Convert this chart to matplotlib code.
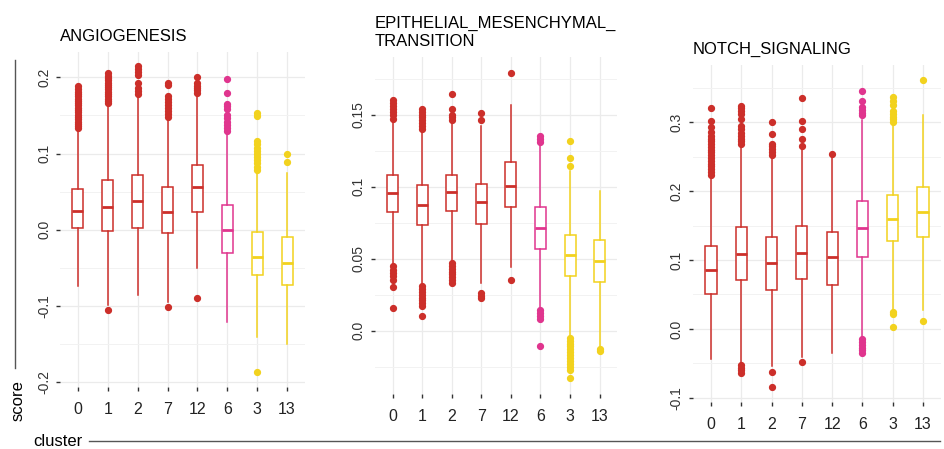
import matplotlib
matplotlib.use("Agg")
import matplotlib.pyplot as plt
from matplotlib.lines import Line2D

plt.rcParams['font.family'] = ['Liberation Sans', 'DejaVu Sans']

clusters = ['0', '1', '2', '7', '12', '6', '3', '13']
red, pink, yellow = '#cc2f2a', '#e0358e', '#f2d21e'
box_colors = [red, red, red, red, red, pink, yellow, yellow]

# ANGIOGENESIS
ang_q1 = [0.002, -0.002, 0.003, -0.004, 0.023, -0.030, -0.059, -0.072]
ang_med = [0.025, 0.030, 0.038, 0.024, 0.056, 0.000, -0.035, -0.044]
ang_q3 = [0.054, 0.065, 0.072, 0.056, 0.085, 0.033, -0.003, -0.010]
ang_lo = [-0.073, -0.098, -0.085, -0.094, -0.050, -0.121, -0.141, -0.149]
ang_hi = [0.131, 0.164, 0.176, 0.146, 0.178, 0.128, 0.078, 0.075]
ang_fliers = [
    [0.133, 0.136, 0.139, 0.142, 0.145, 0.148, 0.151, 0.154, 0.157, 0.160,
     0.163, 0.166, 0.169, 0.172, 0.175, 0.178, 0.181, 0.184, 0.188],
    [0.166, 0.169, 0.172, 0.175, 0.178, 0.181, 0.184, 0.187, 0.190, 0.193,
     0.196, 0.199, 0.202, 0.205, -0.105],
    [0.178, 0.182, 0.186, 0.193, 0.203, 0.207, 0.211, 0.215],
    [0.148, 0.152, 0.156, 0.160, 0.164, 0.168, 0.172, 0.175, 0.190, 0.192, -0.101],
    [0.180, 0.183, 0.186, 0.189, 0.192, 0.200, -0.089],
    [0.130, 0.134, 0.138, 0.142, 0.146, 0.150, 0.158, 0.162, 0.165, 0.180, 0.198],
    [0.079, 0.083, 0.087, 0.091, 0.095, 0.099, 0.103, 0.107, 0.112, 0.117,
     0.149, 0.153, -0.186],
    [0.089, 0.100],
]

# EPITHELIAL_MESENCHYMAL_TRANSITION
emt_q1 = [0.0825, 0.073, 0.083, 0.074, 0.0855, 0.057, 0.0376, 0.034]
emt_med = [0.0954, 0.087, 0.096, 0.089, 0.1007, 0.0716, 0.0524, 0.048]
emt_q3 = [0.108, 0.101, 0.108, 0.102, 0.117, 0.086, 0.0663, 0.0626]
emt_lo = [0.046, 0.033, 0.047, 0.033, 0.044, 0.0155, -0.004, -0.012]
emt_hi = [0.146, 0.138, 0.145, 0.142, 0.157, 0.129, 0.111, 0.097]
emt_fliers = [
    [0.147, 0.150, 0.152, 0.154, 0.156, 0.158, 0.160,
     0.045, 0.042, 0.040, 0.038, 0.035, 0.030, 0.016],
    [0.140, 0.142, 0.144, 0.146, 0.148, 0.150, 0.152, 0.154,
     0.031, 0.029, 0.027, 0.025, 0.023, 0.021, 0.019, 0.017, 0.010],
    [0.146, 0.148, 0.150, 0.154, 0.164,
     0.047, 0.045, 0.043, 0.041, 0.039, 0.037, 0.035, 0.033],
    [0.146, 0.151, 0.026, 0.024, 0.023],
    [0.179, 0.035],
    [0.131, 0.133, 0.135, 0.014, 0.012, 0.010, 0.008, -0.011],
    [0.114, 0.120, 0.132, -0.005, -0.007, -0.009, -0.011, -0.013, -0.015,
     -0.017, -0.019, -0.021, -0.023, -0.025, -0.027, -0.033],
    [-0.013, -0.014],
]

# NOTCH_SIGNALING
notch_q1 = [0.0506, 0.071, 0.056, 0.073, 0.064, 0.105, 0.127, 0.133]
notch_med = [0.0858, 0.109, 0.095, 0.110, 0.105, 0.146, 0.160, 0.170]
notch_q3 = [0.121, 0.148, 0.134, 0.149, 0.140, 0.186, 0.195, 0.206]
notch_lo = [-0.044, -0.049, -0.054, -0.040, -0.035, -0.013, 0.028, 0.028]
notch_hi = [0.223, 0.266, 0.250, 0.262, 0.249, 0.303, 0.300, 0.311]
notch_fliers = [
    [0.224, 0.228, 0.232, 0.236, 0.240, 0.244, 0.248, 0.252, 0.256, 0.260,
     0.264, 0.268, 0.272, 0.276, 0.280, 0.286, 0.293, 0.302, 0.321],
    [0.268, 0.272, 0.276, 0.280, 0.285, 0.290, 0.295, 0.304, 0.312, 0.316,
     0.320, 0.324, -0.052, -0.056, -0.060, -0.064],
    [0.253, 0.257, 0.261, 0.265, 0.268, 0.283, 0.300, -0.063, -0.084],
    [0.266, 0.276, 0.290, 0.302, 0.335, -0.048],
    [0.254],
    [0.310, 0.314, 0.318, 0.322, 0.331, 0.345,
     -0.015, -0.019, -0.023, -0.027, -0.031, -0.035],
    [0.300, 0.304, 0.308, 0.312, 0.316, 0.325, 0.330, 0.336, 0.025, 0.021, 0.003],
    [0.361, 0.011],
]

panels = [
    ("ANGIOGENESIS", ang_q1, ang_med, ang_q3, ang_lo, ang_hi, ang_fliers,
     [0.0636, 0.138, 0.2595, 0.746], (-0.206, 0.233),
     [-0.2, -0.1, 0.0, 0.1, 0.2], ['-0.2', '-0.1', '0.0', '0.1', '0.2'],
     [-0.15, -0.05, 0.05, 0.15]),
    ("EPITHELIAL_MESENCHYMAL_\nTRANSITION", emt_q1, emt_med, emt_q3, emt_lo, emt_hi, emt_fliers,
     [0.397, 0.1225, 0.257, 0.7506], (-0.044, 0.19),
     [0.0, 0.05, 0.1, 0.15], ['0.0', '0.05', '0.1', '0.15'],
     [-0.025, 0.025, 0.075, 0.125, 0.175]),
    ("NOTCH_SIGNALING", notch_q1, notch_med, notch_q3, notch_lo, notch_hi, notch_fliers,
     [0.734, 0.1047, 0.263, 0.7506], (-0.106, 0.383),
     [-0.1, 0.0, 0.1, 0.2, 0.3], ['-0.1', '0.0', '0.1', '0.2', '0.3'],
     [-0.05, 0.05, 0.15, 0.25, 0.35]),
]

fig = plt.figure(figsize=(9.44, 4.49), dpi=100)

for title, q1, med, q3, lo, hi, fl, pos, ylim, yt, ytl, yminor in panels:
    ax = fig.add_axes(pos)
    for i in range(len(clusters)):
        c = box_colors[i]
        stats = [dict(q1=q1[i], med=med[i], q3=q3[i], whislo=lo[i], whishi=hi[i],
                      fliers=fl[i])]
        ax.bxp(stats, positions=[i], widths=0.37, showcaps=False, patch_artist=True,
               boxprops=dict(facecolor='white', edgecolor=c, linewidth=1.1),
               whiskerprops=dict(color=c, linewidth=1.1),
               medianprops=dict(color=c, linewidth=2.0),
               flierprops=dict(marker='o', markerfacecolor=c, markeredgecolor=c,
                               markersize=4.2, linestyle='none'),
               zorder=3)
    ax.set_xlim(-0.6, 7.6)
    ax.set_ylim(*ylim)
    ax.set_xticks(range(len(clusters)))
    ax.set_xticklabels(clusters, fontsize=11.5, color='#222222')
    ax.set_yticks(yt)
    ax.set_yticklabels(ytl, rotation=90, va='center', fontsize=10, color='#333333')
    ax.set_yticks(yminor, minor=True)
    ax.tick_params(axis='y', which='minor', length=0)
    ax.tick_params(axis='both', which='major', length=3, width=1, color='#333333')
    ax.tick_params(axis='x', pad=8)
    ax.grid(True, which='major', color='#ebebeb', linewidth=0.9, zorder=0)
    ax.grid(True, which='minor', axis='y', color='#f2f2f2', linewidth=0.7, zorder=0)
    ax.set_axisbelow(True)
    for s in ax.spines.values():
        s.set_visible(False)
    ax.set_title(title, loc='left', fontsize=12, pad=8, x=0.0)

# shared axis labels with guide lines
fig.text(18 / 944, 1 - 401 / 449, 'score', rotation=90, ha='center', va='center', fontsize=12)
fig.add_artist(Line2D([15 / 944, 15 / 944], [1 - 60 / 449, 1 - 368 / 449],
                      color='#555555', linewidth=1))
fig.text(33 / 944, 1 - 441 / 449, 'cluster', ha='left', va='center', fontsize=12)
fig.add_artist(Line2D([89 / 944, 940 / 944], [1 - 441 / 449, 1 - 441 / 449],
                      color='#555555', linewidth=1))

fig.savefig('out.png', dpi=100)
